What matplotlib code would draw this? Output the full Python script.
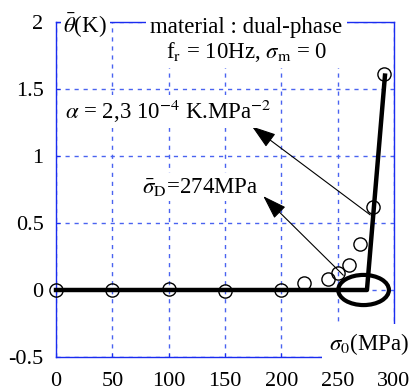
import matplotlib
matplotlib.use("Agg")
import matplotlib.pyplot as plt
from matplotlib.patches import Ellipse

plt.rcParams['font.family'] = ['Liberation Serif', 'DejaVu Serif']
plt.rcParams['mathtext.fontset'] = 'stix'
plt.rcParams['axes.unicode_minus'] = False

# measured points : stress amplitude (MPa) vs mean temperature rise (K)
sigma0 = [0, 50, 100, 150, 200, 220, 241, 250, 260, 270, 281, 291]
theta = [0, 0, 0.01, -0.01, 0, 0.05, 0.08, 0.13, 0.19, 0.34, 0.62, 1.61]

# two-line fit
fit_x = [0, 276, 292]
fit_y = [0, 0, 1.6]

xticks = [0, 50, 100, 150, 200, 250, 300]
yticks = [-0.5, 0, 0.5, 1, 1.5, 2]
ytick_labels = ['-0.5', '0', '0.5', '1', '1.5', '2']

BLUE = '#1a2cf0'
GRID = '#4a63f0'
FS = 16.5

fig = plt.figure(figsize=(4.11, 3.92), dpi=100)
ax = fig.add_axes([0.1363, 0.0893, 0.8223, 0.8546])

ax.set_xlim(0, 300)
ax.set_ylim(-0.5, 2)
ax.set_xticks(xticks)
ax.set_yticks(yticks)
ax.set_yticklabels(ytick_labels)
ax.tick_params(direction='in', length=3, color=BLUE, labelsize=16, labelcolor='black')
ax.tick_params(axis='x', pad=11)
ax.tick_params(axis='y', pad=9)
for s in ax.spines.values():
    s.set_color(BLUE)
    s.set_linewidth(1.0)
ax.grid(True, color=GRID, linestyle=(0, (3, 3.5)), linewidth=1.0)
ax.set_axisbelow(True)

ax.plot(fit_x, fit_y, color='black', lw=3.2, zorder=3, clip_on=False)
ax.plot(sigma0, theta, 'o', mfc='none', mec='black', ms=9.5, mew=1.0, zorder=4, clip_on=False)

ax.add_patch(Ellipse((273, 0), 45, 0.225, fill=False, ec='black', lw=3.0, zorder=5, clip_on=False))

arrow = dict(arrowstyle='-|>,head_length=1.5,head_width=0.5', mutation_scale=10,
             color='black', lw=0.8, shrinkA=0, shrinkB=0)
ax.annotate('', xy=(174, 1.22), xytext=(279, 0.56), arrowprops=arrow, zorder=6)
ax.annotate('', xy=(184, 0.70), xytext=(255, 0.11), arrowprops=arrow, zorder=6)

box = dict(facecolor='white', edgecolor='none', pad=2)
ax.text(100, 1.33, r'$\alpha$ = 2,3 10$^{-4}$ K.MPa$^{-2}$', fontsize=FS,
        ha='center', va='center', bbox=box, zorder=7)
ax.text(128, 0.77, r'$\bar{\sigma}_\mathrm{D}$=274MPa', fontsize=FS,
        ha='center', va='center', bbox=box, zorder=7)

ax.text(169, 1.86, 'material : dual-phase\n' + r'f$_\mathrm{r}$ = 10Hz, $\sigma_\mathrm{m}$ = 0',
        fontsize=FS, ha='center', va='center', linespacing=1.1,
        bbox=dict(facecolor='white', edgecolor='none', pad=3), zorder=7, clip_on=False)

ax.text(26, 1.98, r'$\bar{\theta}$(K)', fontsize=FS, ha='center', va='center',
        bbox=dict(facecolor='white', edgecolor='none', pad=2), zorder=7, clip_on=False)
ax.text(278, -0.40, r'$\sigma_0$(MPa)', fontsize=FS, ha='center', va='center',
        bbox=dict(facecolor='white', edgecolor='none', pad=5), zorder=7, clip_on=False)

fig.savefig('out.png', dpi=100)
